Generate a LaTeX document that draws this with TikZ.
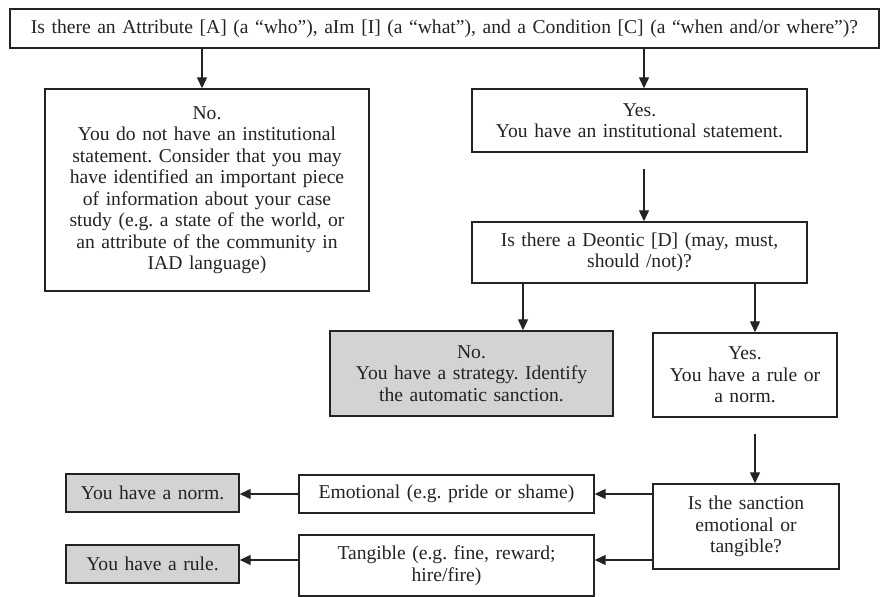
\documentclass[tikz,border=0pt]{standalone}
\usepackage{fontspec}
\setmainfont{Liberation Serif}
\usetikzlibrary{arrows.meta}
\definecolor{boxgray}{RGB}{211,211,213}
\definecolor{ink}{RGB}{35,35,35}
\tikzset{
  box/.style={draw=ink, line width=1.4pt, text=ink, align=center, inner xsep=0pt, inner ysep=0pt,
    font=\fontsize{19.6pt}{21.5pt}\selectfont\frenchspacing},
  graybox/.style={box, fill=boxgray},
  arr/.style={draw=ink, line width=1.2pt, -{Triangle[length=11pt,width=10pt]}}
}
\begin{document}
\frenchspacing
\begin{tikzpicture}[x=1pt,y=-1pt]
\useasboundingbox (0,0) rectangle (881,597);

\node[box, text width=869pt, minimum height=39pt] (top) at (444.5,28.5)
  {Is there an Attribute [A] (a “who”), aIm [I] (a “what”), and a Condition [C] (a “when and/or where”)?};

\node[box, text width=324pt, minimum height=202pt] (no1) at (207,190)
  {No.\\ You do not have an institutional\\ statement. Consider that you may\\ have identified an important piece\\ of information about your case\\ study (e.g. a state of the world, or\\ an attribute of the community in\\ IAD language)};

\node[box, text width=335pt, minimum height=63pt] (yes1) at (639.5,120.5)
  {Yes.\\ You have an institutional statement.};

\node[box, text width=335pt, minimum height=61pt] (deontic) at (639.5,252.5)
  {Is there a Deontic [D] (may, must,\\ should /not)?};

\node[graybox, text width=283pt, minimum height=85pt] (strategy) at (471.5,373.5)
  {No.\\ You have a strategy. Identify\\ the automatic sanction.};

\node[box, text width=184pt, minimum height=84pt] (rulenorm) at (745,375)
  {Yes.\\ You have a rule or\\ a norm.};

\node[box, text width=186pt, minimum height=85pt] (sanction) at (746,526.5)
  {Is the sanction\\ emotional or\\ tangible?};

\node[box, text width=295pt, minimum height=38pt] (emotional) at (446.5,494)
  {Emotional (e.g. pride or shame)};

\node[box, text width=295pt, minimum height=61pt] (tangible) at (446.5,565.5)
  {Tangible (e.g. fine, reward;\\ hire/fire)};

\node[graybox, text width=173pt, minimum height=38pt] (norm) at (152.5,493)
  {You have a norm.};

\node[graybox, text width=173pt, minimum height=38pt] (rule) at (152.5,564)
  {You have a rule.};

\coordinate (tin) at ([yshift=5.5pt]tangible.east);
\coordinate (tout) at ([yshift=5.5pt]tangible.west);

% connectors
\draw[arr] ([xshift=-5pt]no1.north |- top.south) -- ([xshift=-5pt]no1.north);
\draw[arr] ([xshift=4.5pt]yes1.north |- top.south) -- ([xshift=4.5pt]yes1.north);
\draw[arr] ([shift={(4.5pt,-16pt)}]yes1.south) -- ([xshift=4.5pt]deontic.north);
\draw[arr] ([xshift=51.5pt]strategy.north |- deontic.south) -- ([xshift=51.5pt]strategy.north);
\draw[arr] ([xshift=10pt]rulenorm.north |- deontic.south) -- ([xshift=10pt]rulenorm.north);
\draw[arr] ([shift={(10pt,-16pt)}]rulenorm.south) -- ([xshift=9pt]sanction.north);
\draw[arr] (sanction.west |- emotional.east) -- (emotional.east);
\draw[arr] (sanction.west |- tin) -- (tin);
\draw[arr] (emotional.west) -- (emotional.west -| norm.east);
\draw[arr] (tout) -- (tout -| rule.east);
\end{tikzpicture}
\end{document}
